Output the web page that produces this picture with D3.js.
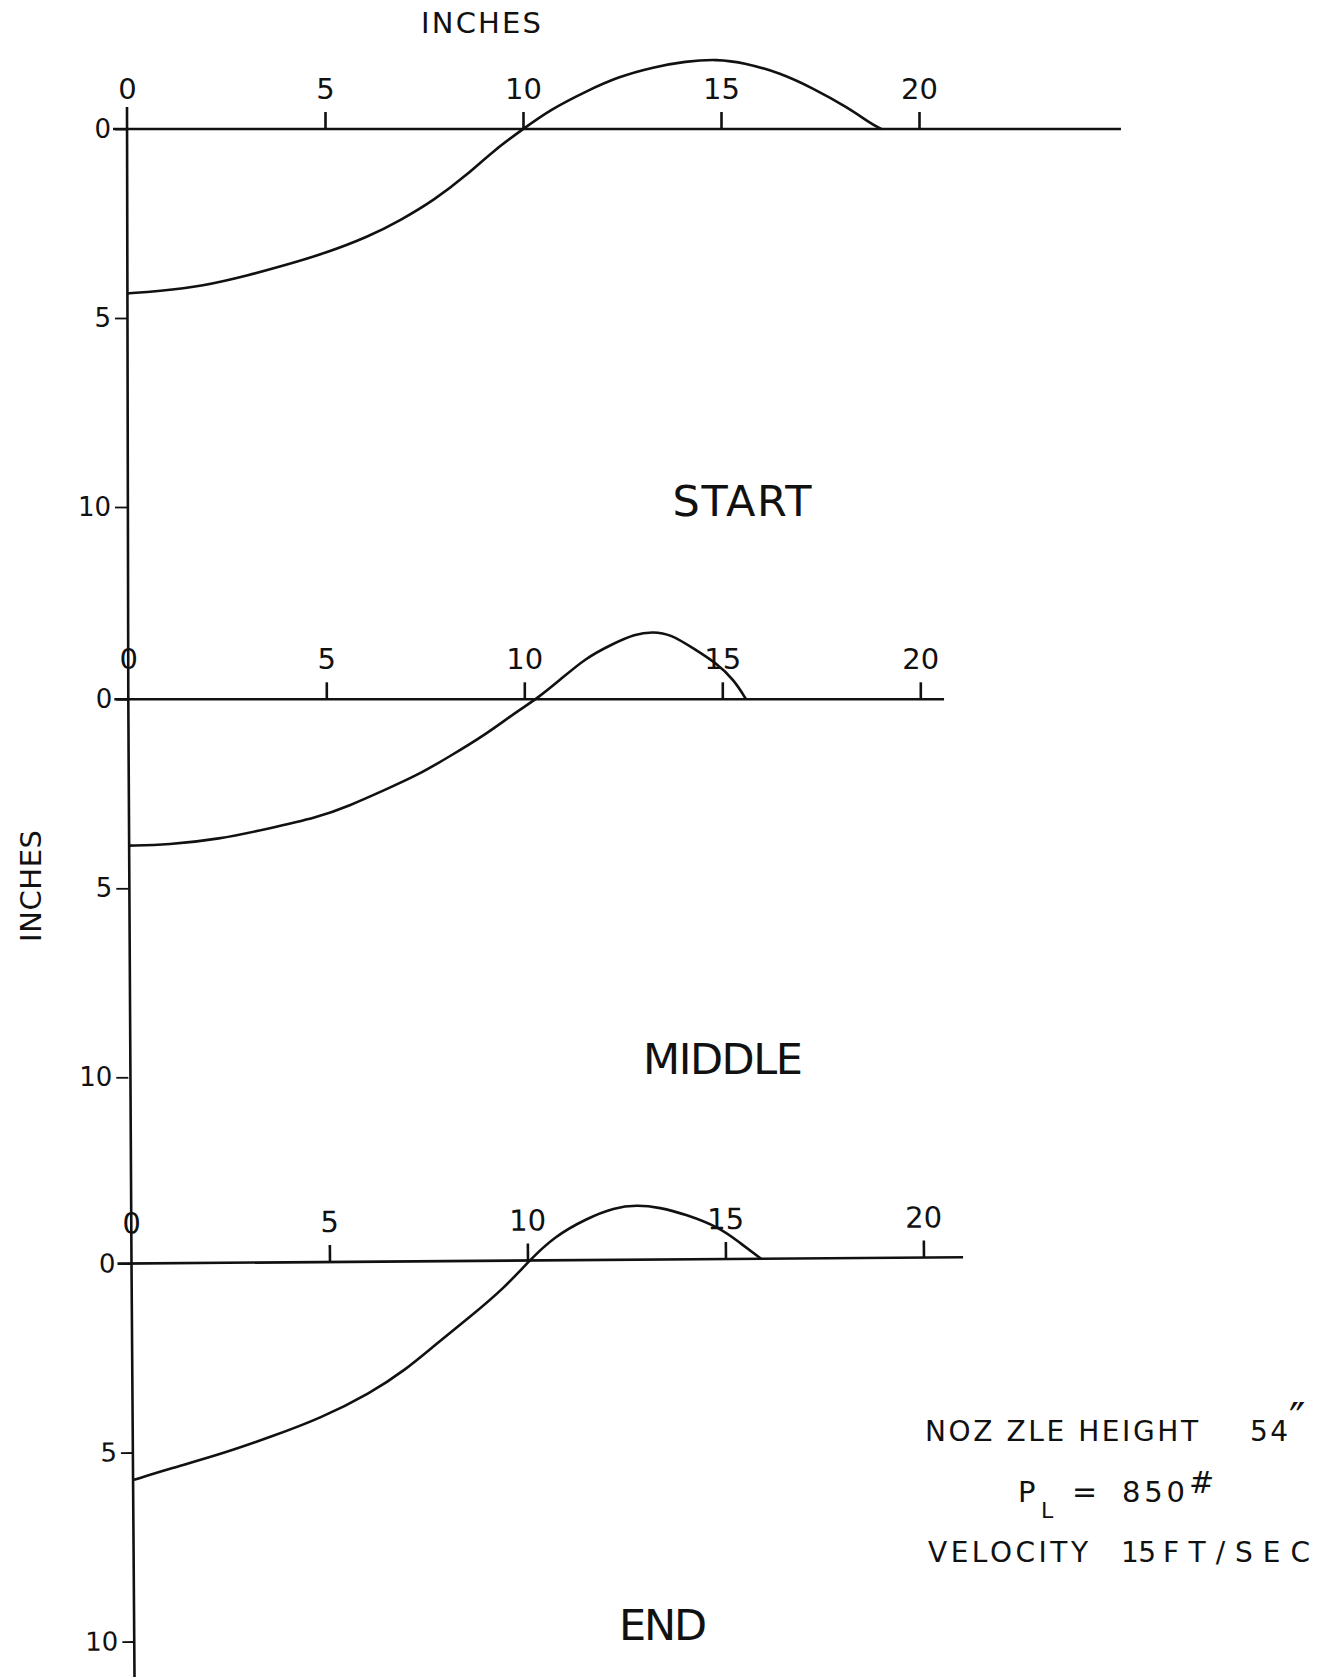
<!DOCTYPE html>
<html>
<head>
<meta charset="utf-8">
<script src="https://cdn.jsdelivr.net/npm/d3@7"></script>
<style>
  html, body { margin: 0; padding: 0; background: #fff; }
  svg text { font-family: "DejaVu Sans", sans-serif; fill: #111; }
</style>
</head>
<body>
<div id="chart"></div>
<script>
// jet profile, inches across vs inches of depth (negative = above the zero line)
const startX = [0, 0.8, 1.9, 3.1, 4.0, 5.0, 6.1, 6.9, 7.75, 8.6, 9.25, 10, 10.7, 11.6, 12.4, 13.3, 14.1, 14.9, 15.6, 16.5, 17.3, 18.2, 18.8, 19.05];
const startY = [4.35, 4.29, 4.16, 3.86, 3.6, 3.29, 2.85, 2.42, 1.89, 1.2, 0.58, 0, -0.52, -1.0, -1.38, -1.64, -1.79, -1.85, -1.75, -1.48, -1.09, -0.57, -0.13, 0];

const middleX = [0, 1.0, 2.3, 3.5, 4.8, 5.6, 6.45, 7.3, 8.1, 9.0, 9.8, 10.3, 10.9, 11.55, 12.2, 12.8, 13.25, 13.7, 14.25, 14.85, 15.3, 15.6];
const middleY = [3.87, 3.85, 3.7, 3.43, 3.12, 2.81, 2.41, 2.01, 1.52, 0.95, 0.33, 0, -0.51, -1.09, -1.45, -1.73, -1.79, -1.72, -1.36, -0.96, -0.51, 0];

const endX = [0, 0.95, 2.2, 3.5, 4.75, 6.0, 6.9, 7.7, 8.55, 9.4, 10.05, 10.67, 11.5, 12.2, 12.76, 13.35, 14.0, 14.85, 15.35, 15.9];
const endY = [5.73, 5.43, 5.07, 4.61, 4.13, 3.48, 2.87, 2.17, 1.47, 0.73, 0, -0.62, -1.1, -1.38, -1.45, -1.38, -1.19, -0.84, -0.44, 0];

const xTicks = [0, 5, 10, 15, 20];
const yTicks = [0, 5, 10];
const panelNames = ["START", "MIDDLE", "END"];
const axisLengths = [25.1, 20.6, 21.0];   // how far each zero line runs, inches

const width = 1331, height = 1679;
const unitX = 39.6, unitY = 37.8;

const svg = d3.select("#chart").append("svg")
    .attr("width", width)
    .attr("height", height);

// placement of the three panels on the sheet
const panels = [
    { xs: startX, ys: startY, x0: 127, y0: 129, tilt: 0, name: [742, 516], nameLen: 139 },
    { xs: middleX, ys: middleY, x0: 128.3, y0: 699.3, tilt: 0, name: [723, 1074], nameLen: 160 },
    { xs: endX, ys: endY, x0: 131.5, y0: 1263.5, tilt: -0.43, name: [663, 1640], nameLen: 88 }
];

// one long vertical axis shared by all panels
svg.append("path")
    .attr("d", d3.line()([[127, 107], [128.3, 699], [131.5, 1263], [134.5, 1677]]))
    .attr("fill", "none")
    .attr("stroke", "#111")
    .attr("stroke-width", 2.6);

panels.forEach((p, i) => {
    const x = d3.scaleLinear().domain([0, 20]).range([p.x0, p.x0 + 20 * unitX]);
    const y = d3.scaleLinear().domain([0, 10]).range([p.y0, p.y0 + 10 * unitY]);

    const g = svg.append("g")
        .attr("transform", `rotate(${p.tilt},${p.x0},${p.y0})`);

    // zero line
    g.append("line")
        .attr("x1", p.x0 - 14).attr("x2", x(axisLengths[i]))
        .attr("y1", y(0)).attr("y2", y(0))
        .attr("stroke", "#111")
        .attr("stroke-width", 2.6);

    // x ticks above the zero line
    const xa = g.append("g")
        .attr("transform", `translate(0,${y(0)})`)
        .call(d3.axisTop(x).tickValues(xTicks).tickSize(17).tickPadding(13).tickFormat(d3.format("d")));
    xa.select(".domain").remove();
    xa.selectAll(".tick line").attr("stroke", "#111").attr("stroke-width", 2.6)
        .filter(d => d === 0).remove();
    xa.selectAll(".tick text").attr("font-size", 29).attr("fill", "#111");

    // y ticks left of the vertical axis
    const ya = g.append("g")
        .attr("transform", `translate(${p.x0},0)`)
        .call(d3.axisLeft(y).tickValues(yTicks).tickSize(12).tickPadding(4).tickFormat(d3.format("d")));
    ya.select(".domain").remove();
    ya.selectAll(".tick line").attr("stroke", "#111").attr("stroke-width", 1.8);
    ya.selectAll(".tick text").attr("font-size", 26).attr("fill", "#111");

    // profile curve
    const pts = p.xs.map((v, k) => [v, p.ys[k]]);
    g.append("path")
        .datum(pts)
        .attr("d", d3.line().x(d => x(d[0])).y(d => y(d[1])).curve(d3.curveBasis))
        .attr("fill", "none")
        .attr("stroke", "#111")
        .attr("stroke-width", 2.6);

    svg.append("text")
        .attr("x", p.name[0] - p.nameLen / 2).attr("y", p.name[1])
        .attr("font-size", 43)
        .attr("textLength", p.nameLen)
        .attr("lengthAdjust", "spacing")
        .text(panelNames[i]);
});

// axis titles
svg.append("text")
    .attr("x", 421).attr("y", 33)
    .attr("font-size", 29)
    .attr("textLength", 120)
    .attr("lengthAdjust", "spacing")
    .text("INCHES");

svg.append("text")
    .attr("transform", "translate(41,942) rotate(-90)")
    .attr("font-size", 29)
    .attr("textLength", 112)
    .attr("lengthAdjust", "spacing")
    .text("INCHES");

// test conditions, each piece spaced out to its width on the sheet
const notes = [
    { t: "NOZ ZLE  HEIGHT", x: 925, y: 1441, w: 273, fs: 28 },
    { t: "54", x: 1250, y: 1441, w: 38, fs: 28 },
    { t: "\u2033", x: 1289, y: 1435, w: 18, fs: 44 },
    { t: "P", x: 1018, y: 1502, w: 19, fs: 29 },
    { t: "L", x: 1041, y: 1518, w: 13, fs: 22 },
    { t: "=", x: 1072, y: 1502, w: 25, fs: 30 },
    { t: "850", x: 1122, y: 1502, w: 63, fs: 29 },
    { t: "#", x: 1189, y: 1493, w: 25, fs: 30 },
    { t: "VELOCITY", x: 928, y: 1562, w: 160, fs: 28 },
    { t: "15", x: 1121, y: 1562, w: 35, fs: 28 },
    { t: "FT/SEC", x: 1163, y: 1562, w: 147, fs: 28 }
];
svg.append("g").selectAll("text")
    .data(notes)
    .join("text")
    .attr("x", d => d.x).attr("y", d => d.y)
    .attr("font-size", d => d.fs)
    .attr("textLength", d => d.w)
    .attr("lengthAdjust", "spacing")
    .text(d => d.t);
</script>
</body>
</html>
